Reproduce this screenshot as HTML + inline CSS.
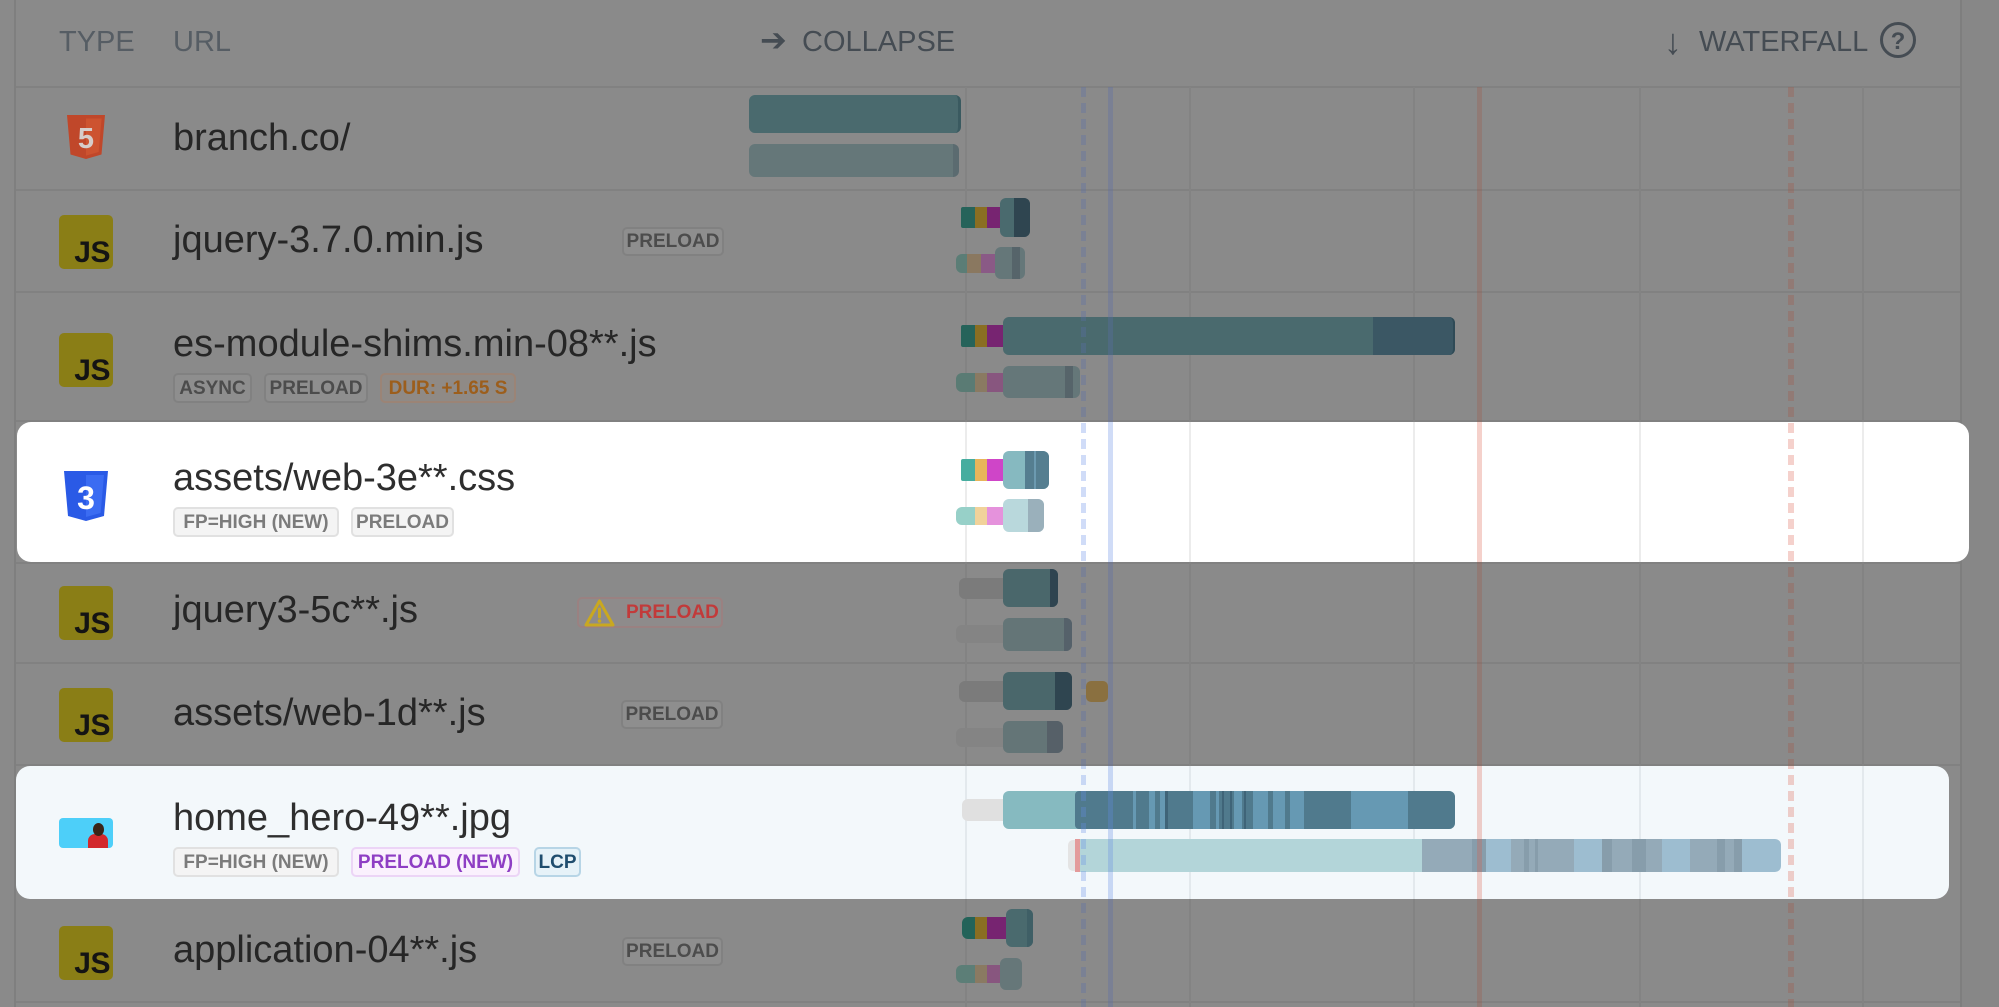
<!DOCTYPE html>
<html><head><meta charset="utf-8">
<style>
*{margin:0;padding:0;box-sizing:border-box}
html,body{width:1999px;height:1007px;overflow:hidden;background:#8a8a8a}
#c{position:relative;width:1999px;height:1007px;overflow:hidden;background:#8a8a8a;font-family:"Liberation Sans",Arial,sans-serif}
.a{position:absolute}
.t{position:absolute;line-height:1;white-space:nowrap;font-size:38px;color:#262626}
.h{position:absolute;line-height:1;white-space:nowrap;font-size:29px;color:#454c53}
.b{position:absolute;border:2px solid #818181;border-radius:5px;font-weight:bold;font-size:19px;display:flex;align-items:center;justify-content:center;background:#8e8e8e;color:#4c4c4c;white-space:nowrap;line-height:1}
.cb{background:#f4f4f4;border-color:#e1e1e1;color:#7b7b7b}
.js{position:absolute;width:54px;height:54px;border-radius:5px;background:#8a7e16}
.js span{position:absolute;right:3px;top:23px;font-weight:bold;font-size:30px;line-height:1;color:#141414;letter-spacing:-0.5px}
.g{position:absolute;top:87px;height:920px;width:2px;background:#838383}
.card{position:absolute;overflow:hidden}
.inner{position:absolute;width:1999px;height:1007px}
</style></head><body>
<div id="c">
<div class="a" style="left:1962px;top:0;width:37px;height:1007px;background:#878787"></div>
<div class="a" style="left:14px;top:0;width:2px;height:1007px;background:#7f7f7f"></div>
<div class="a" style="left:1960px;top:0;width:2px;height:1007px;background:#7e7e7e"></div>

<div class="a" style="left:16px;top:86px;width:1944px;height:2px;background:#818181"></div>
<div class="a" style="left:16px;top:189px;width:1944px;height:2px;background:#818181"></div>
<div class="a" style="left:16px;top:291px;width:1944px;height:2px;background:#818181"></div>
<div class="a" style="left:16px;top:420px;width:1944px;height:2px;background:#818181"></div>
<div class="a" style="left:16px;top:562px;width:1944px;height:2px;background:#818181"></div>
<div class="a" style="left:16px;top:662px;width:1944px;height:2px;background:#818181"></div>
<div class="a" style="left:16px;top:764px;width:1944px;height:2px;background:#818181"></div>
<div class="a" style="left:16px;top:1001px;width:1944px;height:2px;background:#818181"></div>

<div class="g" style="left:965px"></div>
<div class="g" style="left:1189px"></div>
<div class="g" style="left:1413px"></div>
<div class="g" style="left:1639px"></div>
<div class="g" style="left:1862px"></div>

<div class="h" style="left:59px;top:28px;color:#565d64">TYPE</div>
<div class="h" style="left:173px;top:28px;color:#565d64">URL</div>
<div class="h" style="left:760px;top:24px;font-family:'DejaVu Sans',sans-serif;font-size:32px">➔</div>
<div class="h" style="left:802px;top:28px">COLLAPSE</div>
<div class="h" style="left:1664px;top:24px;font-size:36px">↓</div>
<div class="h" style="left:1699px;top:28px">WATERFALL</div>
<svg class="a" style="left:1879px;top:21px" width="38" height="38" viewBox="0 0 38 38"><circle cx="19" cy="19" r="16.5" fill="none" stroke="#454c53" stroke-width="3"/><text x="19" y="28" font-size="24" font-weight="bold" text-anchor="middle" fill="#454c53" font-family="Liberation Sans">?</text></svg>

<svg class="a" style="left:67px;top:115px" width="38" height="44" viewBox="0 0 38 44"><path d="M0 0H38L34.5 39.5L19 44L3.5 39.5Z" fill="#c0472a"/><path d="M19 3.5H34.6L31.6 37L19 40.6Z" fill="#cd5330"/><text x="19" y="33" font-size="29" font-weight="bold" fill="#d6cdca" text-anchor="middle" font-family="Liberation Sans">5</text></svg>
<div class="t" style="left:173px;top:119px">branch.co/</div>
<div class="a" style="left:749px;top:95px;width:212px;height:38px;background:#4a6a6e;border-radius:6px;border-right:3px solid #3a5a60"></div>
<div class="a" style="left:749px;top:144px;width:210px;height:33px;background:#657779;border-radius:6px;border-right:6px solid #5b6b70"></div>

<div class="js" style="left:59px;top:215px"><span>JS</span></div>
<div class="t" style="left:173px;top:221px">jquery-3.7.0.min.js</div>
<div class="b" style="left:622px;top:227px;width:102px;height:29px">PRELOAD</div>
<div class="a" style="left:961px;top:207px;width:14px;height:21px;background:#26635a;border-radius:2px 0 0 2px"></div>
<div class="a" style="left:975px;top:207px;width:12px;height:21px;background:#8a6e22"></div>
<div class="a" style="left:987px;top:207px;width:14px;height:21px;background:#772471"></div>
<div class="a" style="left:1000px;top:198px;width:30px;height:39px;background:#4a6a6e;border-radius:6px"></div>
<div class="a" style="left:1014px;top:198px;width:16px;height:39px;background:#2f4550;border-radius:0 6px 6px 0"></div>
<div class="a" style="left:956px;top:254px;width:11px;height:19px;background:#5b7d76;border-radius:6px 0 0 6px"></div>
<div class="a" style="left:967px;top:254px;width:14px;height:19px;background:#8a7860"></div>
<div class="a" style="left:981px;top:254px;width:15px;height:19px;background:#8a5a86"></div>
<div class="a" style="left:995px;top:247px;width:30px;height:32px;background:#657779;border-radius:6px"></div>
<div class="a" style="left:1012px;top:247px;width:8px;height:32px;background:#56646a"></div>

<div class="js" style="left:59px;top:333px"><span>JS</span></div>
<div class="t" style="left:173px;top:325px">es-module-shims.min-08**.js</div>
<div class="b" style="left:173px;top:373px;width:79px;height:30px">ASYNC</div>
<div class="b" style="left:264px;top:373px;width:104px;height:30px">PRELOAD</div>
<div class="b" style="left:380px;top:373px;width:136px;height:30px;background:#8f8a86;border-color:#9b8476;color:#9c5e1c">DUR: +1.65 S</div>
<div class="a" style="left:961px;top:325px;width:14px;height:22px;background:#26635a;border-radius:2px 0 0 2px"></div>
<div class="a" style="left:975px;top:325px;width:12px;height:22px;background:#8a6e22"></div>
<div class="a" style="left:987px;top:325px;width:17px;height:22px;background:#772471"></div>
<div class="a" style="left:1003px;top:317px;width:452px;height:38px;background:#4a6a6e;border-radius:6px"></div>
<div class="a" style="left:1373px;top:317px;width:82px;height:38px;background:#3b5764;border-radius:0 6px 6px 0;border-right:2px solid #2f4a56"></div>
<div class="a" style="left:956px;top:373px;width:19px;height:19px;background:#5a7b74;border-radius:6px 0 0 6px"></div>
<div class="a" style="left:975px;top:373px;width:12px;height:19px;background:#8a7a62"></div>
<div class="a" style="left:987px;top:373px;width:17px;height:19px;background:#88567f"></div>
<div class="a" style="left:1003px;top:366px;width:77px;height:32px;background:#657779;border-radius:6px"></div>
<div class="a" style="left:1065px;top:366px;width:8px;height:32px;background:#56646a"></div>

<div class="js" style="left:59px;top:586px"><span>JS</span></div>
<div class="t" style="left:173px;top:591px">jquery3-5c**.js</div>
<div class="b" style="left:577px;top:597px;width:146px;height:31px;background:#8e8b8b;border-color:#9a8181;color:#c23a3a;justify-content:flex-start;padding-left:4px">
<svg width="33" height="30" viewBox="0 0 33 30" style="flex:none"><path d="M16.5 3L30 27H3Z" fill="none" stroke="#c9a820" stroke-width="3" stroke-linejoin="round"/><line x1="16.5" y1="11" x2="16.5" y2="19" stroke="#c9a820" stroke-width="3" stroke-linecap="round"/><circle cx="16.5" cy="23" r="1.8" fill="#c9a820"/></svg>
<span style="margin-left:10px">PRELOAD</span></div>
<div class="a" style="left:959px;top:578px;width:50px;height:21px;background:#7b7b7b;border-radius:6px"></div>
<div class="a" style="left:1003px;top:569px;width:55px;height:38px;background:#4a676b;border-radius:6px"></div>
<div class="a" style="left:1050px;top:569px;width:8px;height:38px;background:#2f4450;border-radius:0 6px 6px 0"></div>
<div class="a" style="left:956px;top:625px;width:52px;height:18px;background:#848484;border-radius:6px"></div>
<div class="a" style="left:1003px;top:618px;width:69px;height:33px;background:#647577;border-radius:6px"></div>
<div class="a" style="left:1064px;top:618px;width:8px;height:33px;background:#55616a;border-radius:0 6px 6px 0"></div>

<div class="js" style="left:59px;top:688px"><span>JS</span></div>
<div class="t" style="left:173px;top:694px">assets/web-1d**.js</div>
<div class="b" style="left:621px;top:700px;width:102px;height:29px">PRELOAD</div>
<div class="a" style="left:959px;top:681px;width:50px;height:21px;background:#7b7b7b;border-radius:6px"></div>
<div class="a" style="left:1003px;top:672px;width:69px;height:38px;background:#4a676b;border-radius:6px"></div>
<div class="a" style="left:1055px;top:672px;width:17px;height:38px;background:#2f4550;border-radius:0 6px 6px 0"></div>
<div class="a" style="left:1086px;top:681px;width:22px;height:21px;background:#8a7040;border-radius:5px"></div>
<div class="a" style="left:956px;top:728px;width:52px;height:19px;background:#848484;border-radius:6px"></div>
<div class="a" style="left:1003px;top:721px;width:60px;height:32px;background:#647577;border-radius:6px"></div>
<div class="a" style="left:1047px;top:721px;width:16px;height:32px;background:#566068;border-radius:0 6px 6px 0"></div>

<div class="js" style="left:59px;top:926px"><span>JS</span></div>
<div class="t" style="left:173px;top:931px">application-04**.js</div>
<div class="b" style="left:622px;top:937px;width:101px;height:29px">PRELOAD</div>
<div class="a" style="left:962px;top:917px;width:13px;height:22px;background:#236359;border-radius:6px 0 0 6px"></div>
<div class="a" style="left:975px;top:917px;width:12px;height:22px;background:#8a6e22"></div>
<div class="a" style="left:987px;top:917px;width:20px;height:22px;background:#772471"></div>
<div class="a" style="left:1006px;top:909px;width:27px;height:38px;background:#4a6a6e;border-radius:6px"></div>
<div class="a" style="left:1027px;top:909px;width:6px;height:38px;background:#3f5f66;border-radius:0 6px 6px 0"></div>
<div class="a" style="left:956px;top:965px;width:19px;height:18px;background:#5c7e77;border-radius:6px 0 0 6px"></div>
<div class="a" style="left:975px;top:965px;width:12px;height:18px;background:#8a7a62"></div>
<div class="a" style="left:987px;top:965px;width:14px;height:18px;background:#88567f"></div>
<div class="a" style="left:1000px;top:958px;width:22px;height:32px;background:#667779;border-radius:6px"></div>

<div class="a" style="left:1081px;top:87px;width:5px;height:920px;background:repeating-linear-gradient(to bottom,rgba(90,110,170,0.32) 0 10px,transparent 10px 16px)"></div>
<div class="a" style="left:1108px;top:87px;width:5px;height:920px;background:rgba(90,110,170,0.32)"></div>
<div class="a" style="left:1477px;top:87px;width:5px;height:920px;background:rgba(165,80,60,0.25)"></div>
<div class="a" style="left:1788px;top:87px;width:6px;height:920px;background:repeating-linear-gradient(to bottom,rgba(165,80,60,0.27) 0 10px,transparent 10px 16px)"></div>

<div class="card" style="left:17px;top:422px;width:1952px;height:140px;background:#ffffff;border-radius:14px">
<div class="inner" style="left:-17px;top:-422px">
<div class="g" style="left:965px;background:#ececec"></div>
<div class="g" style="left:1189px;background:#ececec"></div>
<div class="g" style="left:1413px;background:#ececec"></div>
<div class="g" style="left:1639px;background:#ececec"></div>
<div class="g" style="left:1862px;background:#ececec"></div>
<svg class="a" style="left:64px;top:471px" width="44" height="50" viewBox="0 0 44 50"><path d="M0 0H44L40 45L22 50L4 45Z" fill="#2a5ae6"/><path d="M22 4H40L36.6 42L22 46Z" fill="#3b6cf2"/><text x="22" y="38" font-size="32" font-weight="bold" fill="#ffffff" text-anchor="middle" font-family="Liberation Sans">3</text></svg>
<div class="t" style="left:173px;top:459px;color:#2e2e2e">assets/web-3e**.css</div>
<div class="b cb" style="left:173px;top:507px;width:166px;height:30px">FP=HIGH (NEW)</div>
<div class="b cb" style="left:351px;top:507px;width:103px;height:30px">PRELOAD</div>
<div class="a" style="left:961px;top:459px;width:14px;height:22px;background:#47ad9f;border-radius:2px 0 0 2px"></div>
<div class="a" style="left:975px;top:459px;width:12px;height:22px;background:#e8b55a"></div>
<div class="a" style="left:987px;top:459px;width:17px;height:22px;background:#cf45c8"></div>
<div class="a" style="left:1003px;top:451px;width:46px;height:38px;background:#86b9c0;border-radius:6px"></div>
<div class="a" style="left:1025px;top:451px;width:24px;height:38px;background:#557e90;border-radius:0 6px 6px 0"></div>
<div class="a" style="left:1034px;top:451px;width:2px;height:38px;background:#6c9ab0"></div>
<div class="a" style="left:956px;top:507px;width:19px;height:18px;background:#97d0c8;border-radius:6px 0 0 6px"></div>
<div class="a" style="left:975px;top:507px;width:12px;height:18px;background:#f1d29a"></div>
<div class="a" style="left:987px;top:507px;width:17px;height:18px;background:#e592dc"></div>
<div class="a" style="left:1003px;top:499px;width:41px;height:33px;background:#b9d8dc;border-radius:6px"></div>
<div class="a" style="left:1028px;top:499px;width:16px;height:33px;background:#9ab0bb;border-radius:0 6px 6px 0"></div>
<div class="a" style="left:1081px;top:87px;width:5px;height:920px;background:repeating-linear-gradient(to bottom,rgba(100,140,230,0.3) 0 10px,transparent 10px 16px)"></div>
<div class="a" style="left:1108px;top:87px;width:5px;height:920px;background:rgba(100,140,230,0.3)"></div>
<div class="a" style="left:1477px;top:87px;width:5px;height:920px;background:rgba(220,90,70,0.28)"></div>
<div class="a" style="left:1788px;top:87px;width:6px;height:920px;background:repeating-linear-gradient(to bottom,rgba(220,90,70,0.28) 0 10px,transparent 10px 16px)"></div>
</div></div>

<div class="card" style="left:16px;top:766px;width:1933px;height:133px;background:#f3f8fb;border-radius:14px">
<div class="inner" style="left:-16px;top:-766px">
<div class="g" style="left:965px;background:#e3e9ed"></div>
<div class="g" style="left:1189px;background:#e3e9ed"></div>
<div class="g" style="left:1413px;background:#e3e9ed"></div>
<div class="g" style="left:1639px;background:#e3e9ed"></div>
<div class="g" style="left:1862px;background:#e3e9ed"></div>
<div class="a" style="left:59px;top:818px;width:54px;height:30px;background:#4dcff9;border-radius:4px;overflow:hidden">
<div class="a" style="left:29px;top:16px;width:20px;height:16px;background:#d2282c;border-radius:7px 7px 0 0"></div>
<div class="a" style="left:34px;top:5px;width:11px;height:13px;background:#3a2418;border-radius:50%"></div>
</div>
<div class="t" style="left:173px;top:799px;color:#2e2e2e">home_hero-49**.jpg</div>
<div class="b cb" style="left:173px;top:847px;width:166px;height:30px">FP=HIGH (NEW)</div>
<div class="b" style="left:351px;top:847px;width:169px;height:30px;background:#faf1fd;border-color:#ecd5f6;color:#8e3ec4">PRELOAD (NEW)</div>
<div class="b" style="left:534px;top:847px;width:47px;height:30px;background:#e6f2f8;border-color:#b7d5e6;color:#1f4d6e">LCP</div>
<div class="a" style="left:962px;top:799px;width:50px;height:22px;background:#e0e0e0;border-radius:6px"></div>
<div class="a" style="left:1003px;top:791px;width:452px;height:38px;background:#86bac0;border-radius:6px"></div>
<div class="a" style="left:1075px;top:791px;width:380px;height:38px;border-radius:4px 6px 6px 4px;background:linear-gradient(90deg,#507a8d 0 58px,#6699b3 58px 61px,#507a8d 61px 74px,#6699b3 74px 80px,#507a8d 80px 85px,#6699b3 85px 90px,#3f6478 90px 93px,#507a8d 93px 118px,#6699b3 118px 135px,#507a8d 135px 141px,#6699b3 141px 144px,#507a8d 144px 147px,#3f6478 147px 149px,#507a8d 149px 155px,#3f6478 155px 157px,#507a8d 157px 159px,#6699b3 159px 167px,#507a8d 167px 169px,#3f6478 169px 171px,#507a8d 171px 178px,#6699b3 178px 193px,#507a8d 193px 198px,#6699b3 198px 210px,#507a8d 210px 215px,#6699b3 215px 229px,#507a8d 229px 276px,#6699b3 276px 333px,#507a8d 333px 380px)"></div>
<div class="a" style="left:1068px;top:840px;width:12px;height:31px;background:#e4e4e4;border-radius:5px"></div>
<div class="a" style="left:1075px;top:839px;width:5px;height:33px;background:#e39a9a"></div>
<div class="a" style="left:1080px;top:839px;width:701px;height:33px;border-radius:0 6px 6px 0;background:linear-gradient(90deg,#b3d5d9 0 342px,#94aab8 342px 392px,#879dab 392px 406px,#9dbdd0 406px 431px,#94aab8 431px 444px,#879dab 444px 449px,#94aab8 449px 455px,#879dab 455px 458px,#94aab8 458px 494px,#9dbdd0 494px 522px,#879dab 522px 532px,#94aab8 532px 552px,#879dab 552px 566px,#94aab8 566px 582px,#9dbdd0 582px 610px,#94aab8 610px 637px,#879dab 637px 645px,#94aab8 645px 654px,#879dab 654px 662px,#9dbdd0 662px 701px)"></div>
<div class="a" style="left:1081px;top:87px;width:5px;height:920px;background:repeating-linear-gradient(to bottom,rgba(100,140,230,0.3) 0 10px,transparent 10px 16px)"></div>
<div class="a" style="left:1108px;top:87px;width:5px;height:920px;background:rgba(100,140,230,0.3)"></div>
<div class="a" style="left:1477px;top:87px;width:5px;height:920px;background:rgba(220,90,70,0.28)"></div>
<div class="a" style="left:1788px;top:87px;width:6px;height:920px;background:repeating-linear-gradient(to bottom,rgba(220,90,70,0.28) 0 10px,transparent 10px 16px)"></div>
</div></div>

</div>
</body></html>
